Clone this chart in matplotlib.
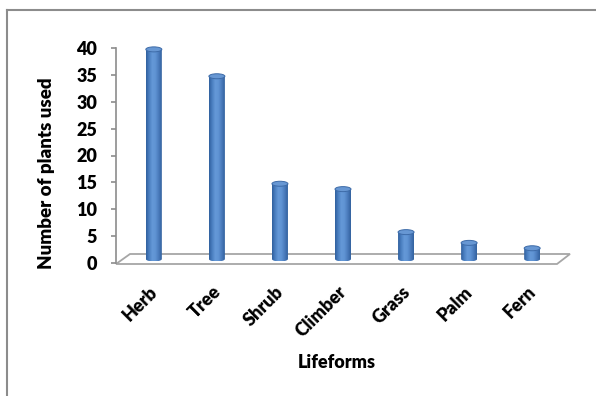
import numpy as np
import matplotlib
matplotlib.use("Agg")
import matplotlib.pyplot as plt
from matplotlib.patches import Polygon, Ellipse, PathPatch
from matplotlib.path import Path
from matplotlib.colors import LinearSegmentedColormap
from matplotlib.lines import Line2D

# Data
lifeforms = ["Herb", "Tree", "Shrub", "Climber", "Grass", "Palm", "Fern"]
plants_used = [39, 34, 14, 13, 5, 3, 2]
y_ticks = [0, 5, 10, 15, 20, 25, 30, 35, 40]

plt.rcParams["font.family"] = ["Lato", "DejaVu Sans"]
WT = "heavy"
plt.rcParams["font.weight"] = WT
FS = 13

W, H = 596, 396
fig = plt.figure(figsize=(W / 100, H / 100), dpi=100)
fig.patch.set_facecolor("white")

# axes placement in pixels
px_per_unit = 5.375
y0_pix = 263.0
ymin, ymax = -0.5, 41.0
ax_left, ax_right = 116.0, 570.0
ax_bot_pix = y0_pix - ymin * px_per_unit
ax_top_pix = y0_pix - ymax * px_per_unit
ax = fig.add_axes([ax_left / W, (H - ax_bot_pix) / H,
                   (ax_right - ax_left) / W, (ax_bot_pix - ax_top_pix) / H])
xmin, xmax = -0.6, 6.6
ax.set_xlim(xmin, xmax)
ax.set_ylim(ymin, ymax)
ax.set_facecolor("none")
x_per_pix = (xmax - xmin) / (ax_right - ax_left)

# value axis
for s in ["top", "right", "bottom"]:
    ax.spines[s].set_visible(False)
ax.spines["left"].set_bounds(0, 40)
ax.spines["left"].set_color("#8c8c8c")
ax.spines["left"].set_linewidth(1.2)
ax.set_yticks(y_ticks)
ax.set_yticklabels([str(t) for t in y_ticks])
ax.tick_params(axis="y", length=3.5, width=1.2, color="#8c8c8c", pad=10,
               labelsize=FS, labelcolor="black")
ax.set_xticks([])
for lab in ax.get_yticklabels():
    lab.set_fontweight(WT)

# floor of the 3D plot
depth_dy = 10.0 / px_per_unit
front_y = -1.0 / px_per_unit
back_y = front_y + depth_dy
floor = Polygon([(xmin, front_y), (xmin + 14 * x_per_pix, back_y),
                 (xmax, back_y), (xmax - 13 * x_per_pix, front_y)],
                closed=True, facecolor="white", edgecolor="#a6a6a6",
                linewidth=1.3, clip_on=False, zorder=1)
ax.add_patch(floor)

# cylinders
cyl_cmap = LinearSegmentedColormap.from_list(
    "cyl", ["#30609e", "#4b80c1", "#6599d8", "#5f93d3", "#4a7bbc", "#33629f"])
grad = np.linspace(0, 1, 64).reshape(1, -1)
bw = 16 * x_per_pix
eh = 5.0 / px_per_unit
base = 4.0 / px_per_unit
for i, v in enumerate(plants_used):
    yb = base
    yt = base + v
    t = np.linspace(np.pi, 2 * np.pi, 40)
    pts = [(i - bw / 2, yt)]
    pts += list(zip(i + bw / 2 * np.cos(t), yb + eh / 2 * np.sin(t)))
    pts += [(i + bw / 2, yt), (i - bw / 2, yt)]
    body = PathPatch(Path(pts), facecolor="none", edgecolor="none", zorder=2)
    ax.add_patch(body)
    im = ax.imshow(grad, cmap=cyl_cmap, aspect="auto", interpolation="bilinear",
                   extent=(i - bw / 2, i + bw / 2, yb - eh / 2, yt), zorder=2)
    im.set_clip_path(body)
    top = Ellipse((i, yt), bw, eh, facecolor="#6797d3", edgecolor="#3d6ba8",
                  linewidth=0.7, zorder=3, clip_on=False)
    ax.add_patch(top)
ax.set_xlim(xmin, xmax)
ax.set_ylim(ymin, ymax)

# category labels
lab_y = (y0_pix - 289) / px_per_unit
for i, name in enumerate(lifeforms):
    ax.text(i + 1 * x_per_pix, lab_y, name, rotation=45, ha="right", va="center",
            rotation_mode="anchor", fontsize=FS, fontweight=WT,
            clip_on=False)

# axis titles
fig.text(337 / W, 1 - 362 / H, "Lifeforms", ha="center", va="center",
         fontsize=FS, fontweight=WT)
fig.text(47 / W, 1 - 173 / H, "Number of plants used", ha="center", va="center",
         rotation=90, fontsize=13.5, fontweight=WT)

# chart area border
fig.add_artist(Line2D([7.5 / W, 7.5 / W], [0, 1 - 9.5 / H], transform=fig.transFigure,
                      color="#8c8c8c", linewidth=1.5))
fig.add_artist(Line2D([7.5 / W, 1], [1 - 9.5 / H, 1 - 9.5 / H], transform=fig.transFigure,
                      color="#8c8c8c", linewidth=1.5))

fig.savefig("out.png", dpi=100, facecolor="white")
